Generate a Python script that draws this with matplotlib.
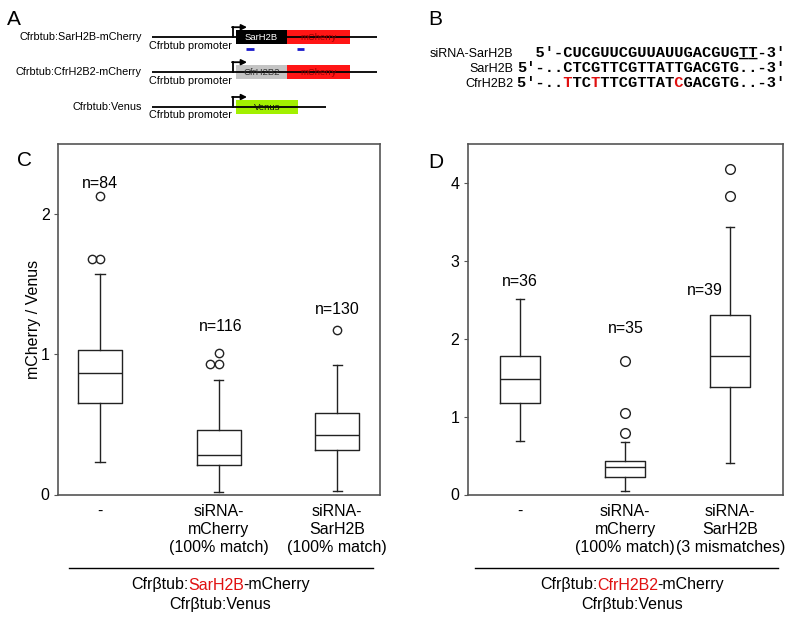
import matplotlib
matplotlib.use("Agg")
import matplotlib.pyplot as plt
from matplotlib.patches import Rectangle
from collections import Counter

plt.rcParams['font.family'] = ['Liberation Sans', 'DejaVu Sans']

# ---------------- data ----------------
c_labels = ['-', 'siRNA-\nmCherry\n(100% match)', 'siRNA-\nSarH2B\n(100% match)']
c_n = [84, 116, 130]
c_whislo = [0.234, 0.017, 0.024]
c_q1 = [0.655, 0.207, 0.314]
c_med = [0.87, 0.284, 0.421]
c_q3 = [1.03, 0.462, 0.579]
c_whishi = [1.57, 0.82, 0.926]
c_fliers = [[1.68, 1.68, 2.13], [0.93, 0.93, 1.01], [1.174]]
c_yticks = [0, 1, 2]

d_labels = ['-', 'siRNA-\nmCherry\n(100% match)', 'siRNA-\nSarH2B\n(3 mismatches)']
d_n = [36, 35, 39]
d_whislo = [0.69, 0.04, 0.40]
d_q1 = [1.17, 0.22, 1.385]
d_med = [1.48, 0.355, 1.78]
d_q3 = [1.78, 0.436, 2.31]
d_whishi = [2.51, 0.67, 3.44]
d_fliers = [[], [0.79, 1.05, 1.71], [3.83, 4.18]]
d_yticks = [0, 1, 2, 3, 4]

# label placement (layout, not data)
c_nlabel_y = [2.22, 1.195, 1.32]
c_nlabel_dx = [0, 0.02, 0]
d_nlabel_y = [2.73, 2.13, 2.62]
d_nlabel_dx = [0, 0.01, -0.24]

seq_rows = ["siRNA-SarH2B", "SarH2B", "CfrH2B2"]
seq_texts = ["  5'-CUCGUUCGUUAUUGACGUGTT-3'",
             "5'-..CTCGTTCGTTATTGACGTG..-3'",
             "5'-..TTCTTTCGTTATCGACGTG..-3'"]
seq_red = [[], [], [5, 8, 17]]
seq_underline = [[24, 25], [], []]

W, H = 800, 623
fig = plt.figure(figsize=(W / 100, H / 100), dpi=100)

EDGE = '#222222'
SPINE = '#555555'
FS = 11.5


def px_axes(x0, x1, y0, y1):
    return fig.add_axes([x0 / W, 1 - y1 / H, (x1 - x0) / W, (y1 - y0) / H])


def draw_box_panel(ax, labels, n, wl, q1, med, q3, wh, fliers, yticks, ylim, xlim,
                   bw, capw, msize, nly, nldx):
    stats = []
    for i in range(len(labels)):
        stats.append(dict(whislo=wl[i], q1=q1[i], med=med[i], q3=q3[i], whishi=wh[i],
                          fliers=[], label=labels[i]))
    pos = list(range(1, len(labels) + 1))
    ax.bxp(stats, positions=pos, widths=bw, showfliers=False, capwidths=capw,
           boxprops=dict(color=EDGE, lw=1.0), medianprops=dict(color=EDGE, lw=1.0),
           whiskerprops=dict(color=EDGE, lw=1.0), capprops=dict(color=EDGE, lw=1.0))
    for p, fl in zip(pos, fliers):
        cnt = Counter(fl)
        seen = Counter()
        xs = []
        for v in fl:
            k = seen[v]
            seen[v] += 1
            xs.append(p - 0.07 * (cnt[v] - 1 - k))
        ax.plot(xs, fl, 'o', mfc='none', mec=EDGE, ms=msize, mew=1.0)
    for p, nn, y, dx in zip(pos, n, nly, nldx):
        ax.text(p + dx, y, f"n={nn}", ha='center', va='center', fontsize=FS)
    ax.set_xlim(*xlim)
    ax.set_ylim(*ylim)
    ax.set_yticks(yticks)
    ax.set_xticks(pos)
    ax.set_xticklabels(labels, fontsize=FS, linespacing=1.25)
    ax.tick_params(axis='x', length=0, pad=7)
    ax.tick_params(axis='y', length=3, direction='out', color=SPINE, labelsize=FS, pad=3)
    for s in ax.spines.values():
        s.set_color(SPINE)
        s.set_linewidth(1.2)


axC = px_axes(58, 380, 144, 494.5)
draw_box_panel(axC, c_labels, c_n, c_whislo, c_q1, c_med, c_q3, c_whishi, c_fliers,
               c_yticks, (0, 2.5), (0.646, 3.36), 0.37, 0.076, 6, c_nlabel_y, c_nlabel_dx)
axC.set_ylabel('mCherry / Venus', fontsize=FS, labelpad=0)

axD = px_axes(467.7, 782.7, 144, 494.5)
draw_box_panel(axD, d_labels, d_n, d_whislo, d_q1, d_med, d_q3, d_whishi, d_fliers,
               d_yticks, (0, 4.5), (0.5, 3.5), 0.38, 0.076, 7, d_nlabel_y, d_nlabel_dx)

# ---------------- overlay in pixel coordinates ----------------
ov = fig.add_axes([0, 0, 1, 1])
ov.set_xlim(0, W)
ov.set_ylim(H, 0)
ov.axis('off')
ov.patch.set_alpha(0)

# panel letters
for letter, x, y in [('A', 7, 25), ('B', 428, 25), ('C', 17, 166), ('D', 428, 168)]:
    ov.text(x, y, letter, fontsize=15, va='baseline', ha='left')

# Panel A schematic
RED = '#ff1515'
rows = [
    ("Cfrbtub:SarH2B-mCherry", 36.7, [("SarH2B", 236, 287, 'black', 'white'),
                                      ("mCherry", 287, 350, RED, '#9a0000')], 377),
    ("Cfrbtub:CfrH2B2-mCherry", 71.7, [("CfrH2B2", 236, 287, '#c4c4c4', '#333333'),
                                        ("mCherry", 287, 350, RED, '#9a0000')], 377),
    ("Cfrbtub:Venus", 106.5, [("Venus", 236, 298, '#a2f000', '#111111')], 326),
]
for name, y, boxes, xend in rows:
    ov.text(142, y, name, ha='right', va='center', fontsize=7.8)
    ov.plot([152, xend], [y, y], color='black', lw=1.3, solid_capstyle='butt')
    ov.plot([232.7, 232.7], [y, y - 9.5], color='black', lw=1.3)
    ov.annotate('', xy=(247, y - 9.5), xytext=(232, y - 9.5),
                arrowprops=dict(arrowstyle='-|>', lw=1.3, color='black',
                                mutation_scale=8, shrinkA=0, shrinkB=0))
    ov.text(149, y + 9, "Cfrbtub promoter", ha='left', va='center', fontsize=7.8)
    for lab, x0, x1, fc, tc in boxes:
        ov.add_patch(Rectangle((x0, y - 6.5), x1 - x0, 13.5, facecolor=fc, edgecolor='none'))
        ov.text((x0 + x1) / 2, y + 0.5, lab, ha='center', va='center', fontsize=6.8, color=tc)
for x0, x1 in [(246, 254), (297, 304)]:
    ov.plot([x0, x1], [48.5, 48.5], color='#1a1acc', lw=2, solid_capstyle='butt')

# Panel B sequences
SEQ_FS = 11.1
seq_y = [56.7, 72.0, 87.2]
for name, txt, reds, und, y in zip(seq_rows, seq_texts, seq_red, seq_underline, seq_y):
    ov.text(513, y, name, ha='right', va='baseline', fontsize=9)
    black = ''.join(' ' if i in reds else ch for i, ch in enumerate(txt))
    red = ''.join(ch if i in reds else ' ' for i, ch in enumerate(txt))
    ov.text(517, y, black, ha='left', va='baseline', fontsize=SEQ_FS,
            family='Liberation Mono', weight='bold', color='black')
    if reds:
        ov.text(517, y, red, ha='left', va='baseline', fontsize=SEQ_FS,
                family='Liberation Mono', weight='bold', color='#e01010')
    if und:
        ul = ''.join('_' if i in und else ' ' for i in range(len(txt)))
        ov.text(517, y, ul, ha='left', va='baseline', fontsize=SEQ_FS,
                family='Liberation Mono', weight='bold', color='black')

# group lines and labels under C and D
renderer = fig.canvas.get_renderer()


def text_w(s, fs):
    t = ov.text(0, 0, s, fontsize=fs)
    w = t.get_window_extent(renderer).width
    t.remove()
    return w


def colored_line(xc, y, segs, fs, kern=1.0):
    widths = [text_w(s, fs) for s, _ in segs]
    total = sum(widths) - kern * (len(segs) - 1)
    x = xc - total / 2
    for (s, col), w in zip(segs, widths):
        ov.text(x, y, s, fontsize=fs, color=col, ha='left', va='center')
        x += w - kern


for (x0, x1), mid, name in [((69, 373), 220.5, 'SarH2B'), ((474.7, 777.7), 632, 'CfrH2B2')]:
    ov.plot([x0, x1], [567.7, 567.7], color='black', lw=1.0)
    colored_line(mid, 585, [("Cfrβtub:", 'black'), (name, '#e01010'), ("-mCherry", 'black')], FS)
    ov.text(mid, 604.3, "Cfrβtub:Venus", ha='center', va='center', fontsize=FS)

fig.savefig('out.png', dpi=100)
